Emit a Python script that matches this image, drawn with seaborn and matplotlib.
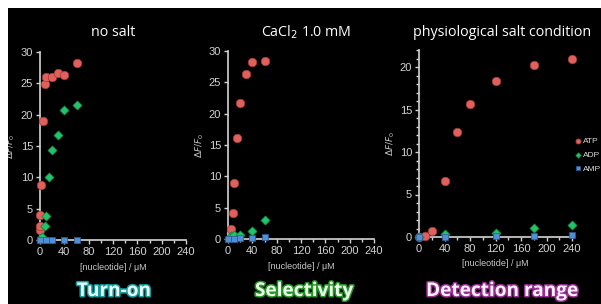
import pandas as pd
import numpy as np
import matplotlib
matplotlib.use('Agg')
import matplotlib.pyplot as plt
import matplotlib.patheffects as pe
from matplotlib.patches import Rectangle
from matplotlib.ticker import MultipleLocator
import seaborn as sns

# --- data ---
nosalt_atp_x = [0.1, 0.25, 0.5, 2, 5, 7.5, 10, 20, 30, 40, 60]
nosalt_atp_y = [1.6, 2.2, 4.0, 8.8, 19.0, 24.9, 26.0, 26.0, 26.6, 26.4, 28.2]
nosalt_adp_x = [4, 7.5, 10, 15, 20, 30, 40, 60]
nosalt_adp_y = [0.4, 2.3, 3.9, 10.0, 14.4, 16.7, 20.8, 21.5]
nosalt_amp_x = [0, 10, 20, 40, 60]
nosalt_amp_y = [0.0, 0.0, 0.0, 0.0, 0.0]

cacl2_atp_x = [5, 8, 10, 15, 20, 30, 40, 60]
cacl2_atp_y = [1.6, 4.2, 8.9, 16.1, 21.7, 26.3, 28.3, 28.4]
cacl2_adp_x = [5, 10, 20, 40, 60]
cacl2_adp_y = [0.5, 0.7, 0.7, 1.3, 3.0]
cacl2_amp_x = [0, 10, 20, 40, 60]
cacl2_amp_y = [0.0, 0.0, 0.1, 0.2, 0.3]

phys_atp_x = [0, 10, 20, 40, 60, 80, 120, 180, 240]
phys_atp_y = [0.0, 0.1, 0.7, 6.6, 12.4, 15.6, 18.4, 20.2, 20.9]
phys_adp_x = [0, 40, 120, 180, 240]
phys_adp_y = [0.0, 0.3, 0.5, 1.1, 1.4]
phys_amp_x = [0, 40, 120, 180, 240]
phys_amp_y = [0.0, 0.0, 0.1, 0.15, 0.2]

titles = ['no salt', r'CaCl$_2$ 1.0 mM', 'physiological salt condition']
captions = ['Turn-on', 'Selectivity', 'Detection range']

# --- estilo ---
sns.set_style('ticks')
plt.rcParams['font.family'] = ['Liberation Sans', 'DejaVu Sans']
plt.rcParams['mathtext.fontset'] = 'dejavusans'

cor_eixo = '#d4d4d4'
estilos = {
    'ATP': dict(marker='o', color='#e0605c', edgecolor='#9c3a36', s=38),
    'ADP': dict(marker='D', color='#22c46a', edgecolor='#137a40', s=22),
    'AMP': dict(marker='s', color='#4f8fd6', edgecolor='#2a5a95', s=24),
}

paineis = [
    (nosalt_atp_x, nosalt_atp_y, nosalt_adp_x, nosalt_adp_y, nosalt_amp_x, nosalt_amp_y),
    (cacl2_atp_x, cacl2_atp_y, cacl2_adp_x, cacl2_adp_y, cacl2_amp_x, cacl2_amp_y),
    (phys_atp_x, phys_atp_y, phys_adp_x, phys_adp_y, phys_amp_x, phys_amp_y),
]

fig = plt.figure(figsize=(6.01, 3.04), dpi=100, facecolor='black')
# margens brancas em cima e a esquerda
fig.add_artist(Rectangle((0, 0), 8 / 601, 1, transform=fig.transFigure,
                         facecolor='white', edgecolor='none', zorder=5))
fig.add_artist(Rectangle((0, 1 - 8 / 304), 1, 8 / 304, transform=fig.transFigure,
                         facecolor='white', edgecolor='none', zorder=5))

posicoes = [
    [40 / 601, 64 / 304, 146 / 601, 188 / 304],
    [228 / 601, 65 / 304, 146 / 601, 188 / 304],
    [419 / 601, 67 / 304, 153 / 601, 187 / 304],
]
ylims = [30, 30, 22]
label_x = [-0.157, -0.15, -0.144]

for i, (pos, dados) in enumerate(zip(posicoes, paineis)):
    ax = fig.add_axes(pos)
    ax.set_facecolor('black')
    for nome, (xs, ys) in zip(['ATP', 'ADP', 'AMP'],
                              [(dados[0], dados[1]), (dados[2], dados[3]), (dados[4], dados[5])]):
        df = pd.DataFrame({'conc': xs, 'dF': ys})
        st = estilos[nome]
        sns.scatterplot(data=df, x='conc', y='dF', ax=ax, marker=st['marker'],
                        color=st['color'], edgecolor=st['edgecolor'], linewidth=0.5,
                        s=st['s'], label=nome, clip_on=False, zorder=3)
    ax.set_xlim(0, 240)
    ax.set_ylim(0, ylims[i])
    ax.xaxis.set_major_locator(MultipleLocator(40))
    ax.xaxis.set_minor_locator(MultipleLocator(20))
    ax.yaxis.set_major_locator(MultipleLocator(5))
    if i == 2:
        ax.yaxis.set_minor_locator(MultipleLocator(1))
    for lado in ['top', 'right']:
        ax.spines[lado].set_visible(False)
    for lado in ['left', 'bottom']:
        ax.spines[lado].set_color(cor_eixo)
        ax.spines[lado].set_linewidth(1.2)
    ax.tick_params(which='major', direction='out', length=3, width=1,
                   colors=cor_eixo, labelsize=8, pad=2)
    ax.tick_params(which='minor', direction='out', length=2, width=1, colors=cor_eixo)
    ax.set_xlabel('[nucleotide] / μM', fontsize=6.5, color='#c8c8c8')
    ax.xaxis.set_label_coords(0.5, -0.12)
    ax.set_ylabel(r'$\Delta F/F_0$', fontsize=6.5, color='#c8c8c8')
    ax.yaxis.set_label_coords(label_x[i], 0.5)
    if i == 2:
        leg = ax.legend(loc='upper left', bbox_to_anchor=(0.985, 0.55), frameon=False,
                        fontsize=6, handletextpad=0.05, labelspacing=0.7,
                        borderaxespad=0, markerscale=0.6, handlelength=1.2)
        for t in leg.get_texts():
            t.set_color('#d8d8d8')
    else:
        ax.get_legend().remove()

# titulos
tit_x = [113, 306, 502]
for tx, t in zip(tit_x, titles):
    fig.text(tx / 601, 1 - 32 / 304, t, ha='center', va='center', color='white',
             fontsize=10.3, family=['Open Sans', 'DejaVu Sans'])

# legendas inferiores com brilho
cap_x = [114, 304, 502]
cap_cor = ['#e8ffff', '#eaffea', '#fff2ff']
brilho = ['#159a9a', '#279227', '#982e92']
for cx, c, fc, gc in zip(cap_x, captions, cap_cor, brilho):
    fig.text(cx / 601, 1 - 296 / 304, c, ha='center', va='baseline', color=fc,
             fontsize=13.7, fontweight='bold', family=['Open Sans', 'DejaVu Sans'],
             path_effects=[pe.withStroke(linewidth=2.2, foreground=gc)])

fig.savefig('out.png', dpi=100, facecolor=fig.get_facecolor())
